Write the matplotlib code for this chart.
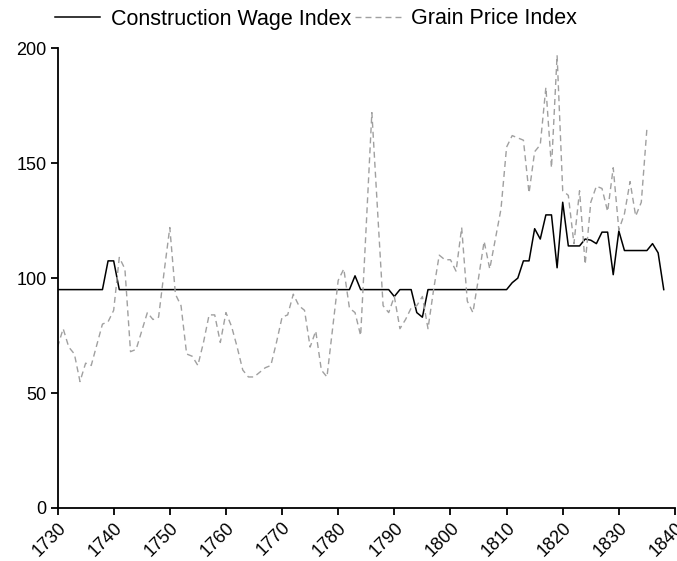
import matplotlib.pyplot as plt
import numpy as np

plt.rcParams['font.family'] = ['Liberation Sans', 'DejaVu Sans']

# Wage index, 1730-1838
wage_start = 1730
wage_values = ([95] * 9 + [107.5, 107.5] + [95] * 42 + [101] + [95] * 6 + [92]
               + [95] * 3 + [85, 83] + [95] * 15 + [
    98, 100, 107.5, 107.5, 121.5, 117, 127.5, 127.5, 104.5, 133,
    114, 114, 114, 117, 116.5, 115, 120, 120, 101.5, 120.5,
    112, 112, 112, 112, 112, 115, 111, 95])

# Grain price index, 1730-1835
grain_start = 1730
grain_values = [
    70, 78, 70, 67, 55, 63, 62, 71, 80, 81,
    86, 109, 104, 68, 69, 77, 85, 82, 83, 103,
    122, 93, 88, 67, 66, 62, 72, 84, 84, 72,
    85, 79, 70, 60, 57, 57, 59, 61, 62, 72,
    83, 84, 93, 88, 86, 70, 77, 60, 57, 78,
    99, 104, 87, 85, 75, 123, 172, 130, 88, 85,
    92, 78, 82, 87, 88, 92, 78, 95, 110, 108,
    108, 103, 122, 90, 85, 100, 116, 104, 117, 130,
    157, 162, 161, 160, 137, 155, 158, 183, 148, 197,
    138, 136, 115, 138, 106, 133, 140, 139, 129, 148,
    121, 128, 142, 127, 133, 165]

wage_years = np.arange(wage_start, wage_start + len(wage_values))
grain_years = np.arange(grain_start, grain_start + len(grain_values))

x_ticks = list(range(1730, 1841, 10))
y_ticks = [0, 50, 100, 150, 200]

fig = plt.figure(figsize=(6.77, 5.61), dpi=100)
ax = fig.add_axes([0.085, 0.0945, 0.912, 0.8195])

ax.plot(wage_years, wage_values, color='black', lw=1.1, label='Construction Wage Index')
ax.plot(grain_years, grain_values, color='#a0a0a0', lw=1.0, dashes=(4.3, 2.9),
        label='Grain Price Index')

ax.set_xlim(1730, 1840)
ax.set_ylim(0, 200)
ax.set_xticks(x_ticks)
ax.set_yticks(y_ticks)
ax.set_xticklabels([str(t) for t in x_ticks], rotation=45, ha='right',
                   rotation_mode='anchor')

for side in ['top', 'right']:
    ax.spines[side].set_visible(False)
for side in ['left', 'bottom']:
    ax.spines[side].set_linewidth(1.3)
ax.tick_params(length=5, width=1.3, labelsize=13, pad=3)

fig.legend(loc='center', bbox_to_anchor=(316 / 677, 1 - 19 / 561), ncol=2,
           frameon=False, fontsize=15.5, handlelength=2.1, handletextpad=0.5,
           columnspacing=0.2)

fig.savefig('out.png', dpi=100)
